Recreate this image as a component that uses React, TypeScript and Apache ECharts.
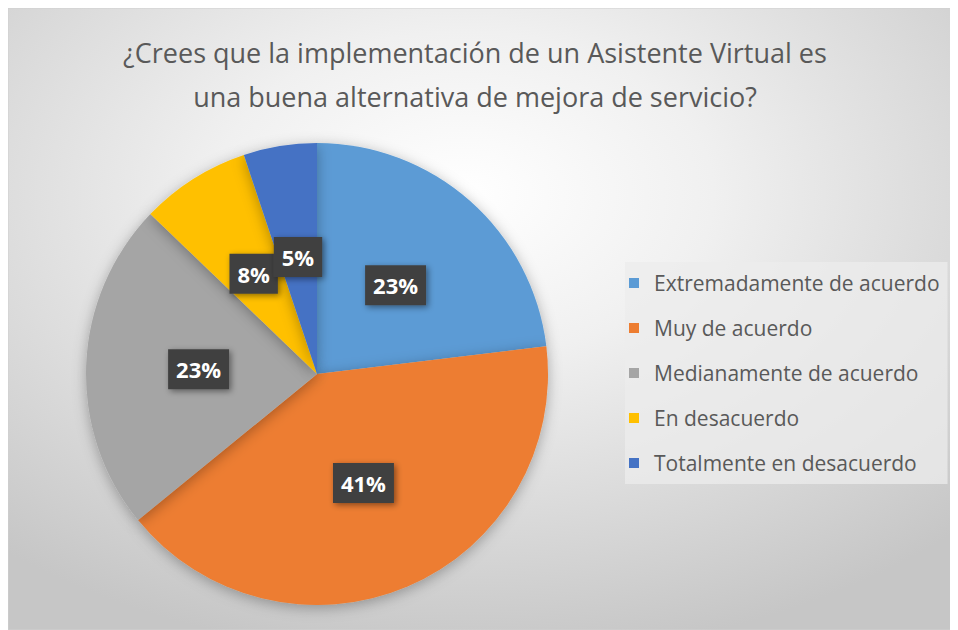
import React, { useEffect, useRef } from "react";
import * as echarts from "echarts";

const titleLines = [
  "¿Crees que la implementación de un Asistente Virtual es",
  "una buena alternativa de mejora de servicio?",
];
const categories = [
  "Extremadamente de acuerdo",
  "Muy de acuerdo",
  "Medianamente de acuerdo",
  "En desacuerdo",
  "Totalmente en desacuerdo",
];
const counts = [9, 16, 9, 3, 2];
const colors = ["#5B9BD5", "#ED7D31", "#A5A5A5", "#FFC000", "#4472C4"];

export default function App() {
  const ref = useRef<HTMLDivElement>(null);
  useEffect(() => {
    document.body.style.overflow = "hidden";
    const chart = echarts.init(ref.current!, null, { renderer: "svg" });
    const W = 950;
    const H = 622;
    chart.setOption({
      animation: false,
      color: colors,
      graphic: [
        {
          type: "rect",
          z: -10,
          silent: true,
          shape: { x: 0, y: 0, width: W, height: H },
          style: {
            fill: new echarts.graphic.RadialGradient(0.48, 0.3, 0.75, [
              { offset: 0, color: "#ffffff" },
              { offset: 0.35, color: "#f0f0f0" },
              { offset: 1, color: "#c6c6c6" },
            ]),
            stroke: "#d0d0d0",
            lineWidth: 1,
          },
        },
        {
          type: "text",
          x: 467,
          y: 66,
          style: {
            text: titleLines.join("\n"),
            fill: "#595959",
            font: "27px 'Open Sans'",
            lineHeight: 44,
            align: "center",
            verticalAlign: "middle",
          },
        },
      ],
      legend: {
        orient: "vertical",
        left: 617,
        top: 254,
        data: categories,
        icon: "rect",
        itemWidth: 10,
        itemHeight: 10,
        itemGap: 21,
        padding: [9, 8, 9, 4],
        backgroundColor: "rgba(236,236,236,0.75)",
        textStyle: {
          color: "#595959",
          fontSize: 21,
          lineHeight: 24,
          fontFamily: "Open Sans",
          padding: [0, 0, 0, 10],
        },
      },
      series: [
        {
          type: "pie",
          center: [309, 366],
          radius: 231,
          startAngle: 90,
          clockwise: true,
          data: categories.map((c, i) => ({ name: c, value: counts[i] })),
          itemStyle: {
            shadowBlur: 14,
            shadowColor: "rgba(0,0,0,0.3)",
            shadowOffsetY: 3,
          },
          avoidLabelOverlap: false,
          labelLayout: { hideOverlap: false },
          labelLine: { show: false },
          label: {
            show: true,
            position: "inside",
            formatter: (p: any) => Math.round(p.percent) + "%",
            color: "#ffffff",
            fontWeight: "bold",
            fontSize: 22,
            fontFamily: "Open Sans",
            lineHeight: 24,
            backgroundColor: "#404040",
            padding: [8, 8],
            shadowBlur: 6,
            shadowColor: "rgba(0,0,0,0.45)",
            shadowOffsetX: 2,
            shadowOffsetY: 2,
          },
          emphasis: { disabled: true },
        },
      ],
    });
    return () => chart.dispose();
  }, []);
  return <div ref={ref} style={{ width: 950, height: 622 }} />;
}
